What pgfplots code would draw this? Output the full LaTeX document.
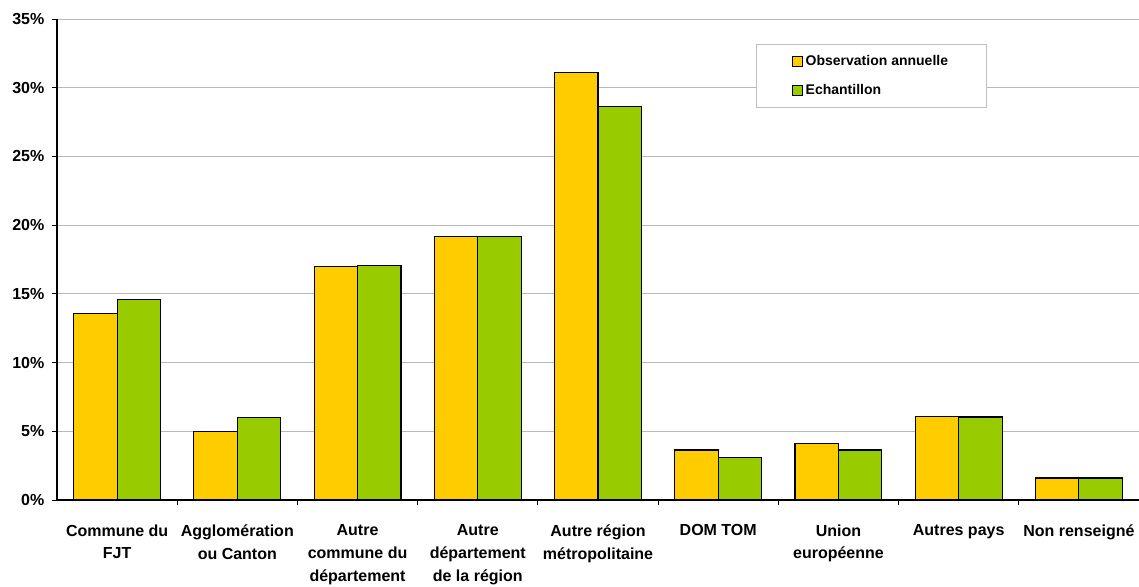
\documentclass[border=0pt]{standalone}
\usepackage{pgfplots}
\pgfplotsset{compat=1.18}
\usepackage{fontspec}
\setmainfont{Liberation Sans}
\definecolor{obs}{HTML}{FFCC00}
\definecolor{ech}{HTML}{99CC00}

\begin{document}
\begin{tikzpicture}
\begin{axis}[
    scale only axis,
    width=811.5pt, height=360.75pt,
    ybar=0pt, bar width=32.6pt,
    xmin=-0.5, xmax=8.5, ymin=0, ymax=35,
    axis x line=bottom, axis y line=left,
    axis line style={-, black, line width=0.8pt},
    xtick={0,...,8},
    minor xtick={0.5,1.5,...,7.5},
    major x tick style={draw=none},
    minor tick length=4pt,
    major tick length=4pt,
    tick align=outside,
    tick style={black, line width=0.6pt},
    xticklabels={
      {Commune du\\FJT},
      {Agglomération\\ou Canton},
      {Autre\\commune du\\département},
      {Autre\\département\\de la région},
      {Autre région\\métropolitaine},
      {DOM TOM},
      {Union\\européenne},
      {Autres pays},
      {Non renseigné}},
    xticklabel style={align=center, yshift=-11pt,
      font=\fontsize{12}{17}\selectfont\bfseries},
    ytick={0,5,...,35},
    yticklabel={\pgfmathprintnumber{\tick}\%},
    yticklabel style={xshift=-2pt, font=\fontsize{12}{14}\selectfont\bfseries},
    /pgf/number format/assume math mode=true,
    ymajorgrids=true,
    grid style={gray!55, line width=0.6pt},
    legend style={at={(rel axis cs:0.646,0.948)}, anchor=north west,
      draw=gray!50, fill=white, inner xsep=27pt, inner ysep=6pt,
      row sep=9pt,
      font=\fontsize{10.5}{12}\selectfont\bfseries},
    legend cell align=left,
    legend image code/.code={\draw[#1, line width=0.6pt] (0pt,-3.75pt) rectangle (7.5pt,3.75pt);},
]
\addplot[fill=obs, draw=black, line width=0.8pt] coordinates {
  (0,13.6) (1,5.0) (2,17.0) (3,19.15) (4,31.1) (5,3.64) (6,4.08) (7,6.1) (8,1.6)};
\addplot[fill=ech, draw=black, line width=0.8pt] coordinates {
  (0,14.6) (1,6.0) (2,17.05) (3,19.2) (4,28.65) (5,3.06) (6,3.64) (7,6.04) (8,1.6)};
\legend{Observation annuelle, Echantillon}
\coordinate (sw) at (rel axis cs:0,0);
\coordinate (ne) at (rel axis cs:1,1);
\end{axis}
\pgfresetboundingbox
\path ([shift={(-42.75pt,-65.25pt)}]sw) rectangle ([shift={(0pt,14.25pt)}]ne);
\end{tikzpicture}
\end{document}
